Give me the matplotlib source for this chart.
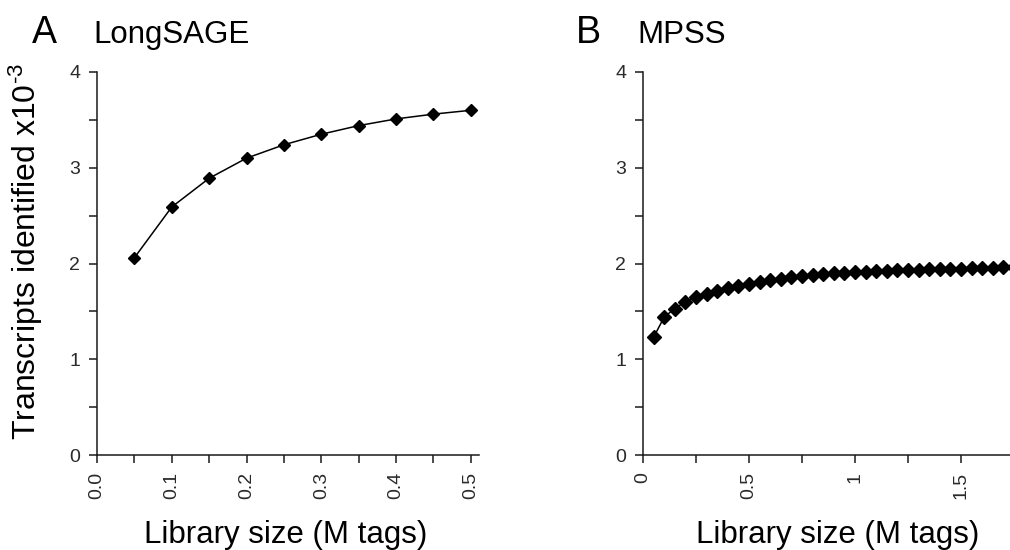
import matplotlib
matplotlib.use("Agg")
import matplotlib.pyplot as plt
from matplotlib.ticker import MultipleLocator

plt.rcParams['font.family'] = ['Liberation Sans', 'DejaVu Sans']
plt.rcParams['mathtext.fontset'] = 'custom'
plt.rcParams['mathtext.rm'] = 'Liberation Sans'
plt.rcParams['mathtext.default'] = 'regular'

# Panel A: LongSAGE
sage_x = [0.05, 0.10, 0.15, 0.20, 0.25, 0.30, 0.35, 0.40, 0.45, 0.50]
sage_y = [2.06, 2.59, 2.89, 3.10, 3.24, 3.35, 3.44, 3.51, 3.56, 3.60]

# Panel B: MPSS
mpss_x = [0.05, 0.10, 0.15, 0.20, 0.25, 0.30, 0.35, 0.40, 0.45, 0.50,
          0.55, 0.60, 0.65, 0.70, 0.75, 0.80, 0.85, 0.90, 0.95, 1.00,
          1.05, 1.10, 1.15, 1.20, 1.25, 1.30, 1.35, 1.40, 1.45, 1.50,
          1.55, 1.60, 1.65, 1.70, 1.75]
mpss_y = [1.23, 1.44, 1.53, 1.60, 1.65, 1.68, 1.71, 1.74, 1.765, 1.79,
          1.81, 1.83, 1.84, 1.855, 1.87, 1.88, 1.895, 1.90, 1.905, 1.91,
          1.915, 1.92, 1.924, 1.928, 1.932, 1.935, 1.938, 1.941, 1.944, 1.947,
          1.950, 1.953, 1.956, 1.959, 1.962]

sage_xticks = [0.0, 0.1, 0.2, 0.3, 0.4, 0.5]
sage_xlabels = ["0.0", "0.1", "0.2", "0.3", "0.4", "0.5"]
mpss_xticks = [0, 0.5, 1.0, 1.5]
mpss_xlabels = ["0", "0.5", "1", "1.5"]
yticks = [0, 1, 2, 3, 4]

W, H = 1010, 550
fig = plt.figure(figsize=(W / 100, H / 100), dpi=100)

def px_axes(x0, x1, ytop, ybot):
    return fig.add_axes([x0 / W, 1 - ybot / H, (x1 - x0) / W, (ybot - ytop) / H])

axA = px_axes(97, 479, 72, 455)
axB = px_axes(643, 643 + 1.76 * 212, 72, 455)

def style(ax, xmax, xticks, xlabels, minor_x):
    for s in ['top', 'right']:
        ax.spines[s].set_visible(False)
    for s in ['left', 'bottom']:
        ax.spines[s].set_linewidth(1.1)
        ax.spines[s].set_color('#1a1a1a')
    ax.set_ylim(0, 4)
    ax.set_xlim(0, xmax)
    ax.set_yticks(yticks)
    ax.set_yticklabels([str(v) for v in yticks])
    ax.yaxis.set_minor_locator(MultipleLocator(0.5))
    ax.set_xticks(xticks)
    ax.set_xticklabels(xlabels, rotation=90)
    ax.xaxis.set_minor_locator(MultipleLocator(minor_x))
    ax.tick_params(which='both', direction='out', length=6, width=1.1, color='#1a1a1a')
    ax.tick_params(which='major', labelsize=14, pad=6, labelcolor='#2a2a2a')

style(axA, 0.511, sage_xticks, sage_xlabels, 0.05)
style(axB, 1.76, mpss_xticks, mpss_xlabels, 0.25)

axA.plot(sage_x, sage_y, color='black', lw=1.1, marker='D', ms=6.5,
         markerfacecolor='black', markeredgecolor='black', clip_on=False)
axB.plot(mpss_x, mpss_y, color='black', lw=1.1, marker='D', ms=7,
         markerfacecolor='black', markeredgecolor='black', clip_on=False)

fig.text(32 / W, 1 - 43 / H, "A", fontsize=27, ha='left', va='baseline')
fig.text(93 / W, 1 - 43 / H, "LongSAGE", fontsize=22.5, ha='left', va='baseline')
fig.text(576 / W, 1 - 43 / H, "B", fontsize=27, ha='left', va='baseline')
fig.text(637 / W, 1 - 43 / H, "MPSS", fontsize=22.5, ha='left', va='baseline')

fig.text(26 / W, 1 - 252 / H, r"Transcripts identified x10$^{\text{-3}}$", fontsize=23,
         rotation=90, ha='center', va='center')
fig.text(286 / W, 1 - 543 / H, "Library size (M tags)", fontsize=22.5,
         ha='center', va='baseline')
fig.text(838 / W, 1 - 543 / H, "Library size (M tags)", fontsize=22.5,
         ha='center', va='baseline')

fig.savefig("out.png", dpi=100)
